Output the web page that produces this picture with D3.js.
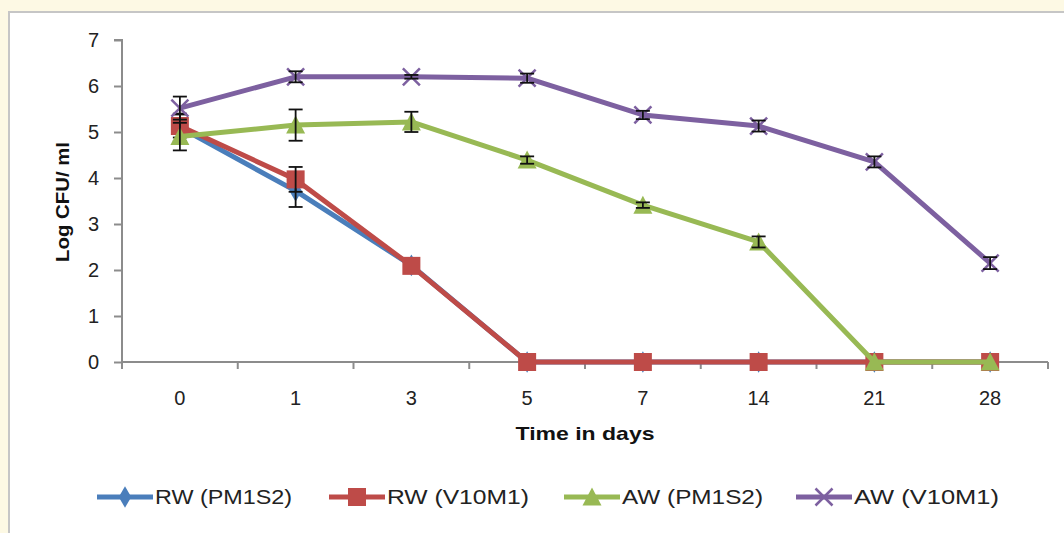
<!DOCTYPE html>
<html><head><meta charset="utf-8">
<script src="https://cdn.jsdelivr.net/npm/d3@7"></script>
<style>
html,body{margin:0;padding:0;background:#fdf9e4;}
svg{display:block;}
</style></head>
<body>
<svg id="chart" width="1064" height="533"></svg>
<script>
const days = ["0","1","3","5","7","14","21","28"];
const seriesNames = ["RW (PM1S2)","RW (V10M1)","AW (PM1S2)","AW (V10M1)"];
const rwPM1S2 = [5.10, 3.72, 2.10, 0, 0, 0, 0, 0];
const rwPM1S2Err = [0.30, 0.35, 0, 0, 0, 0, 0, 0];
const rwV10M1 = [5.13, 3.97, 2.09, 0, 0, 0, 0, 0];
const rwV10M1Err = [0.25, 0.27, 0, 0, 0, 0, 0, 0];
const awPM1S2 = [4.90, 5.15, 5.22, 4.39, 3.41, 2.61, 0, 0];
const awPM1S2Err = [0.30, 0.34, 0.22, 0.08, 0.06, 0.12, 0, 0];
const awV10M1 = [5.52, 6.20, 6.20, 6.17, 5.37, 5.13, 4.35, 2.15];
const awV10M1Err = [0.25, 0.12, 0.04, 0.10, 0.09, 0.12, 0.12, 0.13];
const yTicks = [0,1,2,3,4,5,6,7];
const colors = ["#4a7ebb","#be4b48","#98b954","#7d60a0"];
const markers = ["diamond","square","triangle","x"];

const series = [
  {name: seriesNames[0], values: rwPM1S2, err: rwPM1S2Err},
  {name: seriesNames[1], values: rwV10M1, err: rwV10M1Err},
  {name: seriesNames[2], values: awPM1S2, err: awPM1S2Err},
  {name: seriesNames[3], values: awV10M1, err: awV10M1Err}
];

const svg = d3.select("#chart");
const font = "'Liberation Sans', Arial, sans-serif";

// chart area panel
svg.append("rect").attr("x",9).attr("y",12).attr("width",1070).attr("height",540)
  .attr("fill","#ffffff").attr("stroke","#c6c6c6").attr("stroke-width",2);

const x = d3.scaleBand().domain(days).range([122,1048]);
const y = d3.scaleLinear().domain([0,7]).range([362,40]);
const xc = d => x(d) + x.bandwidth()/2;

// y axis
const gy = svg.append("g").attr("transform","translate(122,0)")
  .call(d3.axisLeft(y).tickValues(yTicks).tickSize(8).tickPadding(15).tickFormat(d3.format("d")));
gy.attr("font-size",null).attr("font-family",null);
gy.select(".domain").attr("stroke","#8c8c8c").attr("stroke-width",2).attr("d","M-8,40H0V366");
gy.selectAll(".tick line").attr("stroke","#8c8c8c").attr("stroke-width",2);
gy.selectAll(".tick text").style("font-family",font).style("font-size","20px").attr("fill","#222");

// x axis
const gx = svg.append("g").attr("transform","translate(0,362)")
  .call(d3.axisBottom(x).tickSize(0).tickPadding(29));
gx.attr("font-size",null).attr("font-family",null);
gx.select(".domain").attr("stroke","#8c8c8c").attr("stroke-width",2).attr("d","M122,0H1048");
gx.selectAll(".tick text").style("font-family",font).style("font-size","20px").attr("fill","#222");
// x ticks at category boundaries
const bounds = days.map(d => x(d)).concat([x.range()[1]]);
svg.append("g").selectAll("line").data(bounds).join("line")
  .attr("x1",d=>d).attr("x2",d=>d).attr("y1",362).attr("y2",369)
  .attr("stroke","#8c8c8c").attr("stroke-width",2);

// axis titles
svg.append("text").attr("transform","translate(69,202) rotate(-90)")
  .attr("text-anchor","middle").attr("font-family",font).attr("font-weight","bold")
  .attr("font-size",18).attr("fill","#111")
  .attr("textLength",120).attr("lengthAdjust","spacingAndGlyphs").text("Log CFU/ ml");
svg.append("text").attr("x",585).attr("y",440)
  .attr("text-anchor","middle").attr("font-family",font).attr("font-weight","bold")
  .attr("font-size",19).attr("fill","#111")
  .attr("textLength",139).attr("lengthAdjust","spacingAndGlyphs").text("Time in days");

function drawMarker(g, type, cx, cy, color, s) {
  if (type === "diamond") {
    g.append("path").attr("d", d3.symbol().type(d3.symbolDiamond).size(s*s*0.6)())
      .attr("transform",`translate(${cx},${cy})`).attr("fill",color);
  } else if (type === "square") {
    g.append("rect").attr("x",cx-s/2).attr("y",cy-s/2).attr("width",s).attr("height",s).attr("fill",color);
  } else if (type === "triangle") {
    g.append("path").attr("d",`M${cx},${cy-s/2-1}L${cx+s/2+1},${cy+s/2}L${cx-s/2-1},${cy+s/2}Z`).attr("fill",color);
  } else {
    const h = s/2;
    g.append("path").attr("d",`M${cx-h},${cy-h}L${cx+h},${cy+h}M${cx-h},${cy+h}L${cx+h},${cy-h}`)
      .attr("stroke",color).attr("stroke-width",2.5).attr("fill","none");
  }
}

const line = d3.line().x((d,i)=>xc(days[i])).y(d=>y(d));
const sizes = [15,18,17,17];

series.forEach((s,si) => {
  const g = svg.append("g");
  g.append("path").datum(s.values).attr("d",line).attr("fill","none")
    .attr("stroke",colors[si]).attr("stroke-width",5).attr("stroke-linejoin","round");
  s.values.forEach((v,i) => drawMarker(g, markers[si], xc(days[i]), y(v), colors[si], sizes[si]));
  // error bars
  s.values.forEach((v,i) => {
    const e = s.err[i];
    if (!e) return;
    const cx = xc(days[i]);
    const eg = g.append("g").attr("stroke","#111").attr("stroke-width",1.8);
    eg.append("line").attr("x1",cx).attr("x2",cx).attr("y1",y(v+e)).attr("y2",y(v-e));
    eg.append("line").attr("x1",cx-7).attr("x2",cx+7).attr("y1",y(v+e)).attr("y2",y(v+e));
    eg.append("line").attr("x1",cx-7).attr("x2",cx+7).attr("y1",y(v-e)).attr("y2",y(v-e));
  });
});

// legend
const legendX = [97, 329, 564, 796];
const legendTextLen = [137, 142, 141, 145];
series.forEach((s,si) => {
  const g = svg.append("g");
  const lx = legendX[si], ly = 497;
  g.append("line").attr("x1",lx).attr("x2",lx+56).attr("y1",ly).attr("y2",ly)
    .attr("stroke",colors[si]).attr("stroke-width",5);
  drawMarker(g, markers[si], lx+28, ly, colors[si], sizes[si]);
  g.append("text").attr("x",lx+58).attr("y",ly+7).attr("font-family",font)
    .attr("font-size",20).attr("fill","#222")
    .attr("textLength",legendTextLen[si]).attr("lengthAdjust","spacingAndGlyphs").text(s.name);
});
</script>
</body></html>
